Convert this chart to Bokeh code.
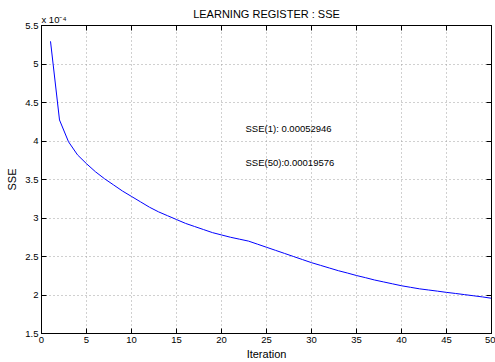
import math
from bokeh.plotting import figure
from bokeh.models import LinearAxis, FixedTicker, Label, Range1d
from bokeh.embed import file_html
from bokeh.resources import INLINE

# ---- data ----
iterations = list(range(1, 51))
# SSE values in units of 1e-4
sse_e4 = [5.2946, 4.273, 3.99, 3.82, 3.705, 3.60, 3.51, 3.43, 3.35, 3.28,
          3.21, 3.14, 3.08, 3.03, 2.98, 2.93, 2.89, 2.85, 2.81, 2.78,
          2.75, 2.725, 2.70, 2.66, 2.62, 2.58, 2.54, 2.50, 2.46, 2.42,
          2.385, 2.35, 2.315, 2.285, 2.253, 2.225, 2.195, 2.17, 2.145, 2.12,
          2.10, 2.08, 2.065, 2.05, 2.034, 2.02, 2.005, 1.99, 1.975, 1.9576]
x_ticks = [0, 5, 10, 15, 20, 25, 30, 35, 40, 45, 50]
x_tick_labels = ["0", "5", "10", "15", "20", "25", "30", "35", "40", "45", "50"]
y_ticks = [1.5, 2, 2.5, 3, 3.5, 4, 4.5, 5, 5.5]
y_tick_labels = ["1.5", "2", "2.5", "3", "3.5", "4", "4.5", "5", "5.5"]
title_text = "LEARNING REGISTER : SSE"
x_label = "Iteration"
y_label = "SSE"
scale_text = "x 10\u207b\u2074"   # x 10^-4
scale_pos = 1.39                  # where the scale text is centred along the top edge
annot1 = "SSE(1): 0.00052946"
annot2 = "SSE(50):0.00019576"

FONT = "Liberation Sans"

p = figure(width=495, height=362, x_range=Range1d(0, 50), y_range=Range1d(1.5, 5.5),
           output_backend="svg", toolbar_location=None, title_location=None,
           min_border_left=41, min_border_right=4, min_border_top=25, min_border_bottom=26)
p.outline_line_color = "black"
p.background_fill_color = "white"
p.border_fill_color = "white"

def base_axis(ax):
    ax.major_tick_in = 5
    ax.major_tick_out = 0
    ax.minor_tick_in = 5
    ax.minor_tick_out = 0
    ax.minor_tick_line_color = "black"
    ax.axis_line_color = "black"
    ax.major_tick_line_color = "black"
    ax.major_label_text_font = FONT
    ax.major_label_text_color = "black"
    ax.major_label_text_font_size = "9.5px"
    ax.major_label_standoff = 3
    ax.axis_label_text_font = FONT
    ax.axis_label_text_font_size = "11px"
    ax.axis_label_text_font_style = "normal"
    ax.axis_label_text_color = "black"

def style_axis(ax, ticks, labels):
    base_axis(ax)
    ax.ticker = FixedTicker(ticks=ticks, minor_ticks=[])
    ax.major_label_overrides = {t: l for t, l in zip(ticks, labels)}

style_axis(p.xaxis[0], x_ticks, x_tick_labels)
style_axis(p.yaxis[0], y_ticks, y_tick_labels)
for ax, txt, so in ((p.xaxis[0], x_label, 2), (p.yaxis[0], y_label, 4)):
    ax.axis_label = txt
    ax.axis_label_standoff = so

# top edge: inward ticks only (minor ticks), the "x 10^-4" scale text and the title
top = LinearAxis()
base_axis(top)
top.ticker = FixedTicker(ticks=[scale_pos], minor_ticks=x_ticks)
top.major_label_overrides = {scale_pos: scale_text}
top.major_tick_line_color = None
top.major_label_standoff = 1
top.axis_label = title_text
top.axis_label_standoff = -9
p.add_layout(top, "above")

# right edge: inward ticks only
right = LinearAxis()
base_axis(right)
right.ticker = FixedTicker(ticks=[], minor_ticks=y_ticks)
p.add_layout(right, "right")

for g, t in ((p.xgrid[0], x_ticks), (p.ygrid[0], y_ticks)):
    g.ticker = FixedTicker(ticks=t)
    g.grid_line_color = "#a0a0a0"
    g.grid_line_dash = "1 3"
    g.grid_line_width = 1

p.line(iterations, sse_e4, line_color="#0000ff", line_width=1)

for txt, xx, yy in ((annot1, 22.67, 4.16), (annot2, 22.67, 3.72)):
    p.add_layout(Label(x=xx, y=yy, text=txt, text_font=FONT, text_font_size="9.5px",
                       text_color="black", text_align="left", text_baseline="middle"))

open("out.html", "w").write(file_html(p, INLINE))
